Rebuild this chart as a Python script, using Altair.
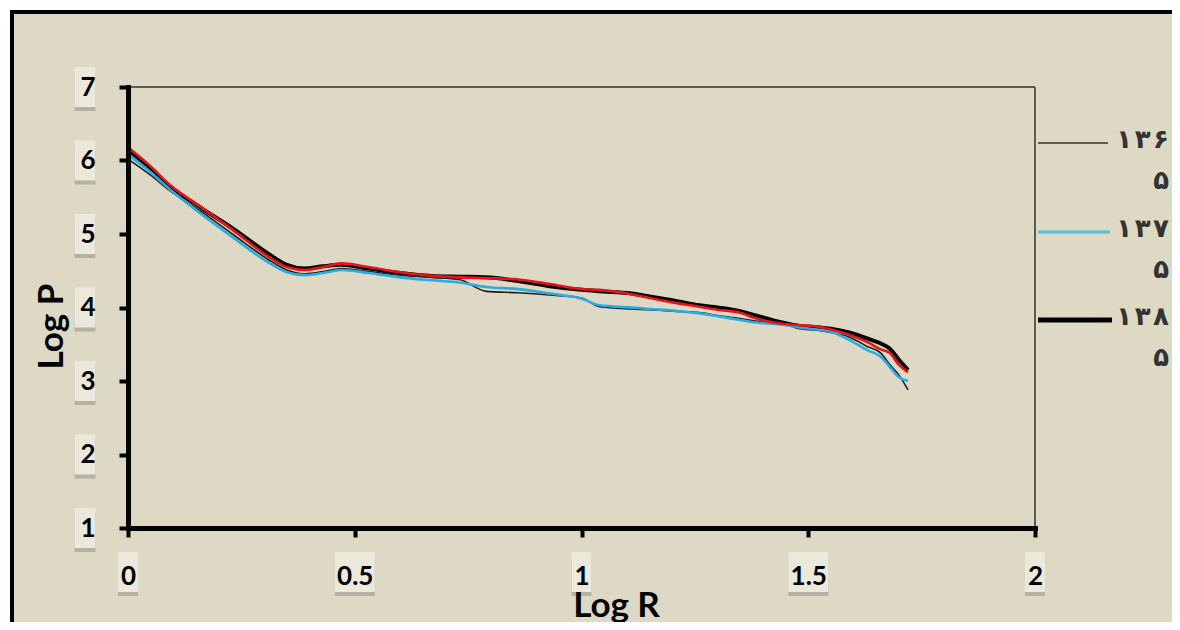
import altair as alt
import pandas as pd

# ---- data ----
log_r = [0, 0.05, 0.09, 0.16, 0.23, 0.31, 0.35, 0.39, 0.43, 0.47, 0.53, 0.60,
         0.67, 0.73, 0.79, 0.86, 0.93, 1.00, 1.04, 1.11, 1.15, 1.20, 1.26, 1.30,
         1.35, 1.38, 1.44, 1.48, 1.52, 1.55, 1.59, 1.63, 1.66, 1.68, 1.70, 1.72]

p_1365 = [6.02, 5.80, 5.60, 5.31, 5.00, 4.65, 4.51, 4.46, 4.49, 4.53, 4.49, 4.44,
          4.41, 4.38, 4.22, 4.20, 4.17, 4.13, 4.01, 3.98, 3.97, 3.95, 3.93, 3.89,
          3.85, 3.82, 3.79, 3.71, 3.69, 3.66, 3.60, 3.47, 3.38, 3.22, 3.08, 2.88]

p_1375 = [6.08, 5.84, 5.62, 5.28, 4.96, 4.61, 4.48, 4.44, 4.47, 4.51, 4.47, 4.41,
          4.37, 4.34, 4.28, 4.25, 4.19, 4.12, 4.03, 4.00, 3.98, 3.96, 3.92, 3.88,
          3.83, 3.80, 3.77, 3.73, 3.70, 3.67, 3.56, 3.42, 3.33, 3.19, 3.05, 3.00]

p_1385 = [6.14, 5.89, 5.66, 5.36, 5.08, 4.73, 4.58, 4.53, 4.56, 4.58, 4.53, 4.47,
          4.43, 4.42, 4.41, 4.36, 4.29, 4.24, 4.22, 4.19, 4.15, 4.10, 4.03, 4.00,
          3.95, 3.90, 3.80, 3.75, 3.73, 3.71, 3.66, 3.58, 3.51, 3.44, 3.29, 3.15]

p_red = [6.18, 5.92, 5.68, 5.37, 5.06, 4.69, 4.55, 4.51, 4.55, 4.60, 4.55, 4.48,
         4.43, 4.41, 4.40, 4.38, 4.32, 4.25, 4.24, 4.18, 4.13, 4.07, 4.01, 3.97,
         3.93, 3.86, 3.78, 3.76, 3.74, 3.70, 3.63, 3.53, 3.43, 3.38, 3.22, 3.12]

series_names = ["۱۳۶۵", "۱۳۷۵", "۱۳۸۵", "red"]
legend_first = ["۱\u200a۳\u200a۶", "۱\u200a۳\u200a۷", "۱\u200a۳\u200a۸"]
legend_second = ["۵", "۵", "۵"]

x_ticks = [0, 0.5, 1, 1.5, 2]
x_tick_kind = ["n", "w", "n", "w", "n"]
y_ticks = [1, 2, 3, 4, 5, 6, 7]

# ---- tables ----
rows = []
for name, vals in zip(series_names, [p_1365, p_1375, p_1385, p_red]):
    for xv, yv in zip(log_r, vals):
        rows.append({"series": name, "log_r": xv, "log_p": yv})
df = pd.DataFrame(rows)
df_xt = pd.DataFrame({"log_r": x_ticks, "kind": x_tick_kind})
df_yt = pd.DataFrame({"log_p": y_ticks})
one = pd.DataFrame({"a": [0]})

BEIGE = "#ddd9c4"
BOX = "#ebe8dc"
SHADOW = "#6e6b62"
NARROW = "M-0.5,-1H0.5V1H-0.5Z"
WIDE = "M-1,-1H1V1H-1Z"

x_scale = alt.Scale(domain=[0, 2], nice=False, zero=False)
y_scale = alt.Scale(domain=[1, 7], nice=False, zero=False)
x_axis = alt.Axis(values=x_ticks, format="~g", title="Log R", labelPadding=26,
                  labelFlush=False, labelOverlap=False, titleX=488, titleY=88,
                  titleAlign="center", titleBaseline="alphabetic", zindex=2)
y_axis = alt.Axis(values=y_ticks, format="~g", title="Log P", labelPadding=24,
                  labelFlush=False, labelOverlap=False, titleX=-66, titleY=239,
                  titleAngle=270, titleAlign="center", titleBaseline="alphabetic",
                  zindex=2)
X = alt.X("log_r:Q", scale=x_scale, axis=x_axis)
Y = alt.Y("log_p:Q", scale=y_scale, axis=y_axis)

# outer frame (beige panel with black border)
frame = alt.Chart(one).mark_rect(fill=BEIGE, stroke="black", strokeWidth=4).encode(
    x=alt.value(-116), x2=alt.value(1120), y=alt.value(-75), y2=alt.value(640)
)

# plot area top / right thin lines
top_line = alt.Chart(one).mark_rule(color="#5c5a55", strokeWidth=2).encode(
    x=alt.value(0), x2=alt.value(907), y=alt.value(0)
)
right_line = alt.Chart(one).mark_rule(color="#5c5a55", strokeWidth=2).encode(
    x=alt.value(907), y=alt.value(0), y2=alt.value(441)
)

# label boxes
def xboxes(kind, shape, fill, opacity, dy):
    return alt.Chart(df_xt).transform_filter(alt.datum.kind == kind).mark_point(
        shape=shape, size=1600, filled=True, fill=fill, opacity=opacity,
        strokeWidth=0, yOffset=dy
    ).encode(x=X, y=alt.value(485))

def yboxes(fill, opacity, dy):
    return alt.Chart(df_yt).mark_point(
        shape="M-0.525,-1H0.525V1H-0.525Z", size=1600, filled=True, fill=fill,
        opacity=opacity, strokeWidth=0, yOffset=dy
    ).encode(x=alt.value(-43), y=Y)

boxes = [
    xboxes("n", NARROW, SHADOW, 0.35, 4), xboxes("w", WIDE, SHADOW, 0.35, 4),
    yboxes(SHADOW, 0.35, 4),
    xboxes("n", NARROW, BOX, 1, 0), xboxes("w", WIDE, BOX, 1, 0),
    yboxes(BOX, 1, 0),
]

def line(name, color, width):
    return alt.Chart(df).transform_filter(alt.datum.series == name).mark_line(
        color=color, strokeWidth=width, interpolate="monotone"
    ).encode(x=X, y=Y)

lines = [
    line("۱۳۸۵", "#000000", 4.0),
    line("۱۳۶۵", "#1e1e1e", 1.6),
    line("۱۳۷۵", "#2aace2", 2.6),
    line("red", "#e8141c", 2.6),
]

# legend (manual, outside plot on the right)
leg_y = [56, 145, 233]
leg_col = ["#333333", "#5bbde0", "#000000"]
leg_w = [1.6, 3, 5]
leg_end = [980, 982, 984]
legend = []
for i in range(3):
    legend.append(alt.Chart(one).mark_rule(color=leg_col[i], strokeWidth=leg_w[i]).encode(
        x=alt.value(910), x2=alt.value(leg_end[i]), y=alt.value(leg_y[i])))
    legend.append(alt.Chart(one).mark_text(
        text=legend_first[i] + "\n" + legend_second[i], lineBreak="\n", lineHeight=41,
        align="right", baseline="alphabetic", font="DejaVu Sans", fontWeight="bold",
        fontSize=26, color="#333333"
    ).encode(x=alt.value(1041), y=alt.value(leg_y[i] + 5)))

chart = alt.layer(frame, top_line, right_line, *boxes, *lines, *legend).properties(
    width=907, height=441,
    padding={"left": 120, "top": 79, "right": 137, "bottom": 94},
    autosize=alt.AutoSizeParams(type="none"),
    background="white",
).configure_view(strokeWidth=0).configure_axis(
    domainColor="black", domainWidth=5, domainCap="square",
    tickColor="black", tickWidth=4, tickSize=9,
    labelFont="Lato", labelFontWeight="bold", labelFontSize=26, labelColor="black",
    titleFont="Lato", titleFontWeight="bold", titleFontSize=35, titleColor="black",
    grid=False,
)

chart.save("out.html", embed_options={"renderer": "svg", "actions": False})
